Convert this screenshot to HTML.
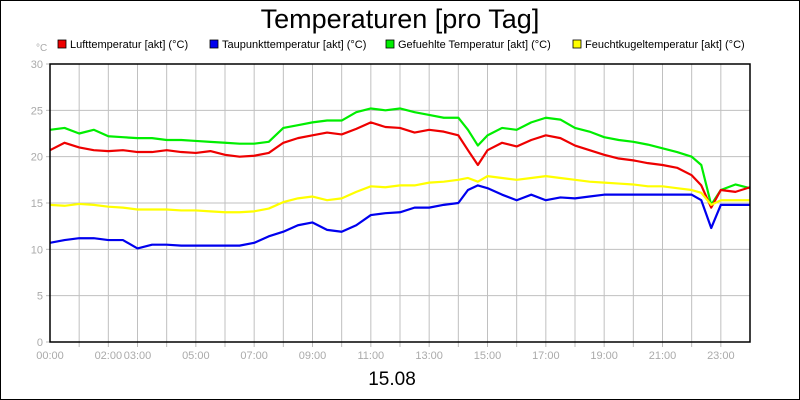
<!DOCTYPE html>
<html><head><meta charset="utf-8"><style>
body{margin:0;background:#fff}
svg{display:block;font-family:"Liberation Sans",sans-serif}
</style></head><body>
<svg id="chart" width="800" height="400">
<rect x="0.5" y="0.5" width="799" height="399" fill="#fff" stroke="#000"/>
<text x="400" y="28" text-anchor="middle" font-size="27">Temperaturen [pro Tag]</text>
<text x="36" y="51" font-size="10" fill="#aaa">°C</text>
<g id="legend"></g>
<g id="grid"></g>
<g id="series"></g>
<g id="axes"></g>
<text x="392" y="385" text-anchor="middle" font-size="19">15.08</text>
</svg>
<script>
const hours=[0,0.5,1,1.5,2,2.5,3,3.5,4,4.5,5,5.5,6,6.5,7,7.5,8,8.5,9,9.5,10,10.5,11,11.5,12,12.5,13,13.5,14,14.33,14.67,15,15.5,16,16.5,17,17.5,18,18.5,19,19.5,20,20.5,21,21.5,22,22.33,22.67,23,23.5,24];
const luft=[20.7,21.5,21,20.7,20.6,20.7,20.5,20.5,20.7,20.5,20.4,20.6,20.2,20,20.1,20.4,21.5,22,22.3,22.6,22.4,23,23.7,23.2,23.1,22.6,22.9,22.7,22.3,20.7,19.1,20.7,21.5,21.1,21.8,22.3,22,21.2,20.7,20.2,19.8,19.6,19.3,19.1,18.8,18,16.9,14.5,16.4,16.2,16.7];
const gefuehlt=[22.9,23.1,22.5,22.9,22.2,22.1,22,22,21.8,21.8,21.7,21.6,21.5,21.4,21.4,21.6,23.1,23.4,23.7,23.9,23.9,24.8,25.2,25,25.2,24.8,24.5,24.2,24.2,22.9,21.2,22.3,23.1,22.9,23.7,24.2,24,23.1,22.7,22.1,21.8,21.6,21.3,20.9,20.5,20,19.1,14.8,16.4,17,16.6];
const taupunkt=[10.7,11,11.2,11.2,11,11,10.1,10.5,10.5,10.4,10.4,10.4,10.4,10.4,10.7,11.4,11.9,12.6,12.9,12.1,11.9,12.6,13.7,13.9,14,14.5,14.5,14.8,15,16.4,16.9,16.6,15.9,15.3,15.9,15.3,15.6,15.5,15.7,15.9,15.9,15.9,15.9,15.9,15.9,15.9,15.3,12.3,14.8,14.8,14.8];
const feucht=[14.8,14.7,14.9,14.8,14.6,14.5,14.3,14.3,14.3,14.2,14.2,14.1,14,14,14.1,14.4,15.1,15.5,15.7,15.3,15.5,16.2,16.8,16.7,16.9,16.9,17.2,17.3,17.5,17.7,17.3,17.9,17.7,17.5,17.7,17.9,17.7,17.5,17.3,17.2,17.1,17,16.8,16.8,16.6,16.4,16.1,14.8,15.3,15.3,15.3];
const yTicks=[0,5,10,15,20,25,30];
const xLabels=["00:00","02:00","03:00","05:00","07:00","09:00","11:00","13:00","15:00","17:00","19:00","21:00","23:00"];
const xLabelHours=[0,2,3,5,7,9,11,13,15,17,19,21,23];
const seriesNames=["Lufttemperatur [akt] (°C)","Taupunkttemperatur [akt] (°C)","Gefuehlte Temperatur [akt] (°C)","Feuchtkugeltemperatur [akt] (°C)"];
const NS="http://www.w3.org/2000/svg";
const L=50,R=750,T=64,B=342;
const xs=h=>L+(R-L)*h/24, ys=v=>B-(B-T)*v/30;
function mk(tag,attrs,parent){const e=document.createElementNS(NS,tag);for(const k in attrs)e.setAttribute(k,attrs[k]);parent.appendChild(e);return e;}
const grid=document.getElementById('grid'),axes=document.getElementById('axes'),ser=document.getElementById('series'),leg=document.getElementById('legend');
for(let h=1;h<24;h++){const g=mk('line',{x1:xs(h),x2:xs(h),y1:T,y2:B,stroke:'#c0c0c0'},grid);


const t=mk('line',{x1:xs(h),x2:xs(h),y1:B,y2:B+5,stroke:'#bbb'},axes);

}
yTicks.forEach(v=>{if(v>0&&v<30){const g=mk('line',{x1:L,x2:R,y1:ys(v),y2:ys(v),stroke:'#c0c0c0'},grid);

}
const t=mk('text',{x:L-7,y:ys(v)+4,'text-anchor':'end','font-size':11,fill:'#aaa'},axes);t.textContent=v;


const tk=mk('line',{x1:L-4,x2:L,y1:ys(v),y2:ys(v),stroke:'#bbb'},axes);

});
xLabels.forEach((s,i)=>{const t=mk('text',{x:xs(xLabelHours[i]),y:B+17,'text-anchor':'middle','font-size':11,fill:'#aaa'},axes);t.textContent=s;

});
const frame=mk('rect',{x:L,y:T,width:R-L,height:B-T,fill:'none',stroke:'#000','stroke-width':1.5},axes);


const sets=[[gefuehlt,'#00ee00','gefuehlte-line'],[luft,'#ee0000','lufttemperatur-line'],[feucht,'#ffff00','feuchtkugel-line'],[taupunkt,'#0000ee','taupunkt-line']];
sets.forEach(([d,c,n])=>{const p=mk('polyline',{points:d.map((v,i)=>xs(hours[i])+','+ys(v)).join(' '),fill:'none',stroke:c,'stroke-width':2.2,'stroke-linejoin':'round'},ser);

});
const lx=[58,210,386,573],lc=['#ee0000','#0000ee','#00ee00','#ffff00'];
seriesNames.forEach((s,i)=>{const r=mk('rect',{x:lx[i],y:40,width:8,height:8,fill:lc[i],stroke:'#000','stroke-width':0.8},leg);


const t=mk('text',{x:lx[i]+12,y:48,'font-size':11},leg);t.textContent=s;

});
</script>
</body></html>
